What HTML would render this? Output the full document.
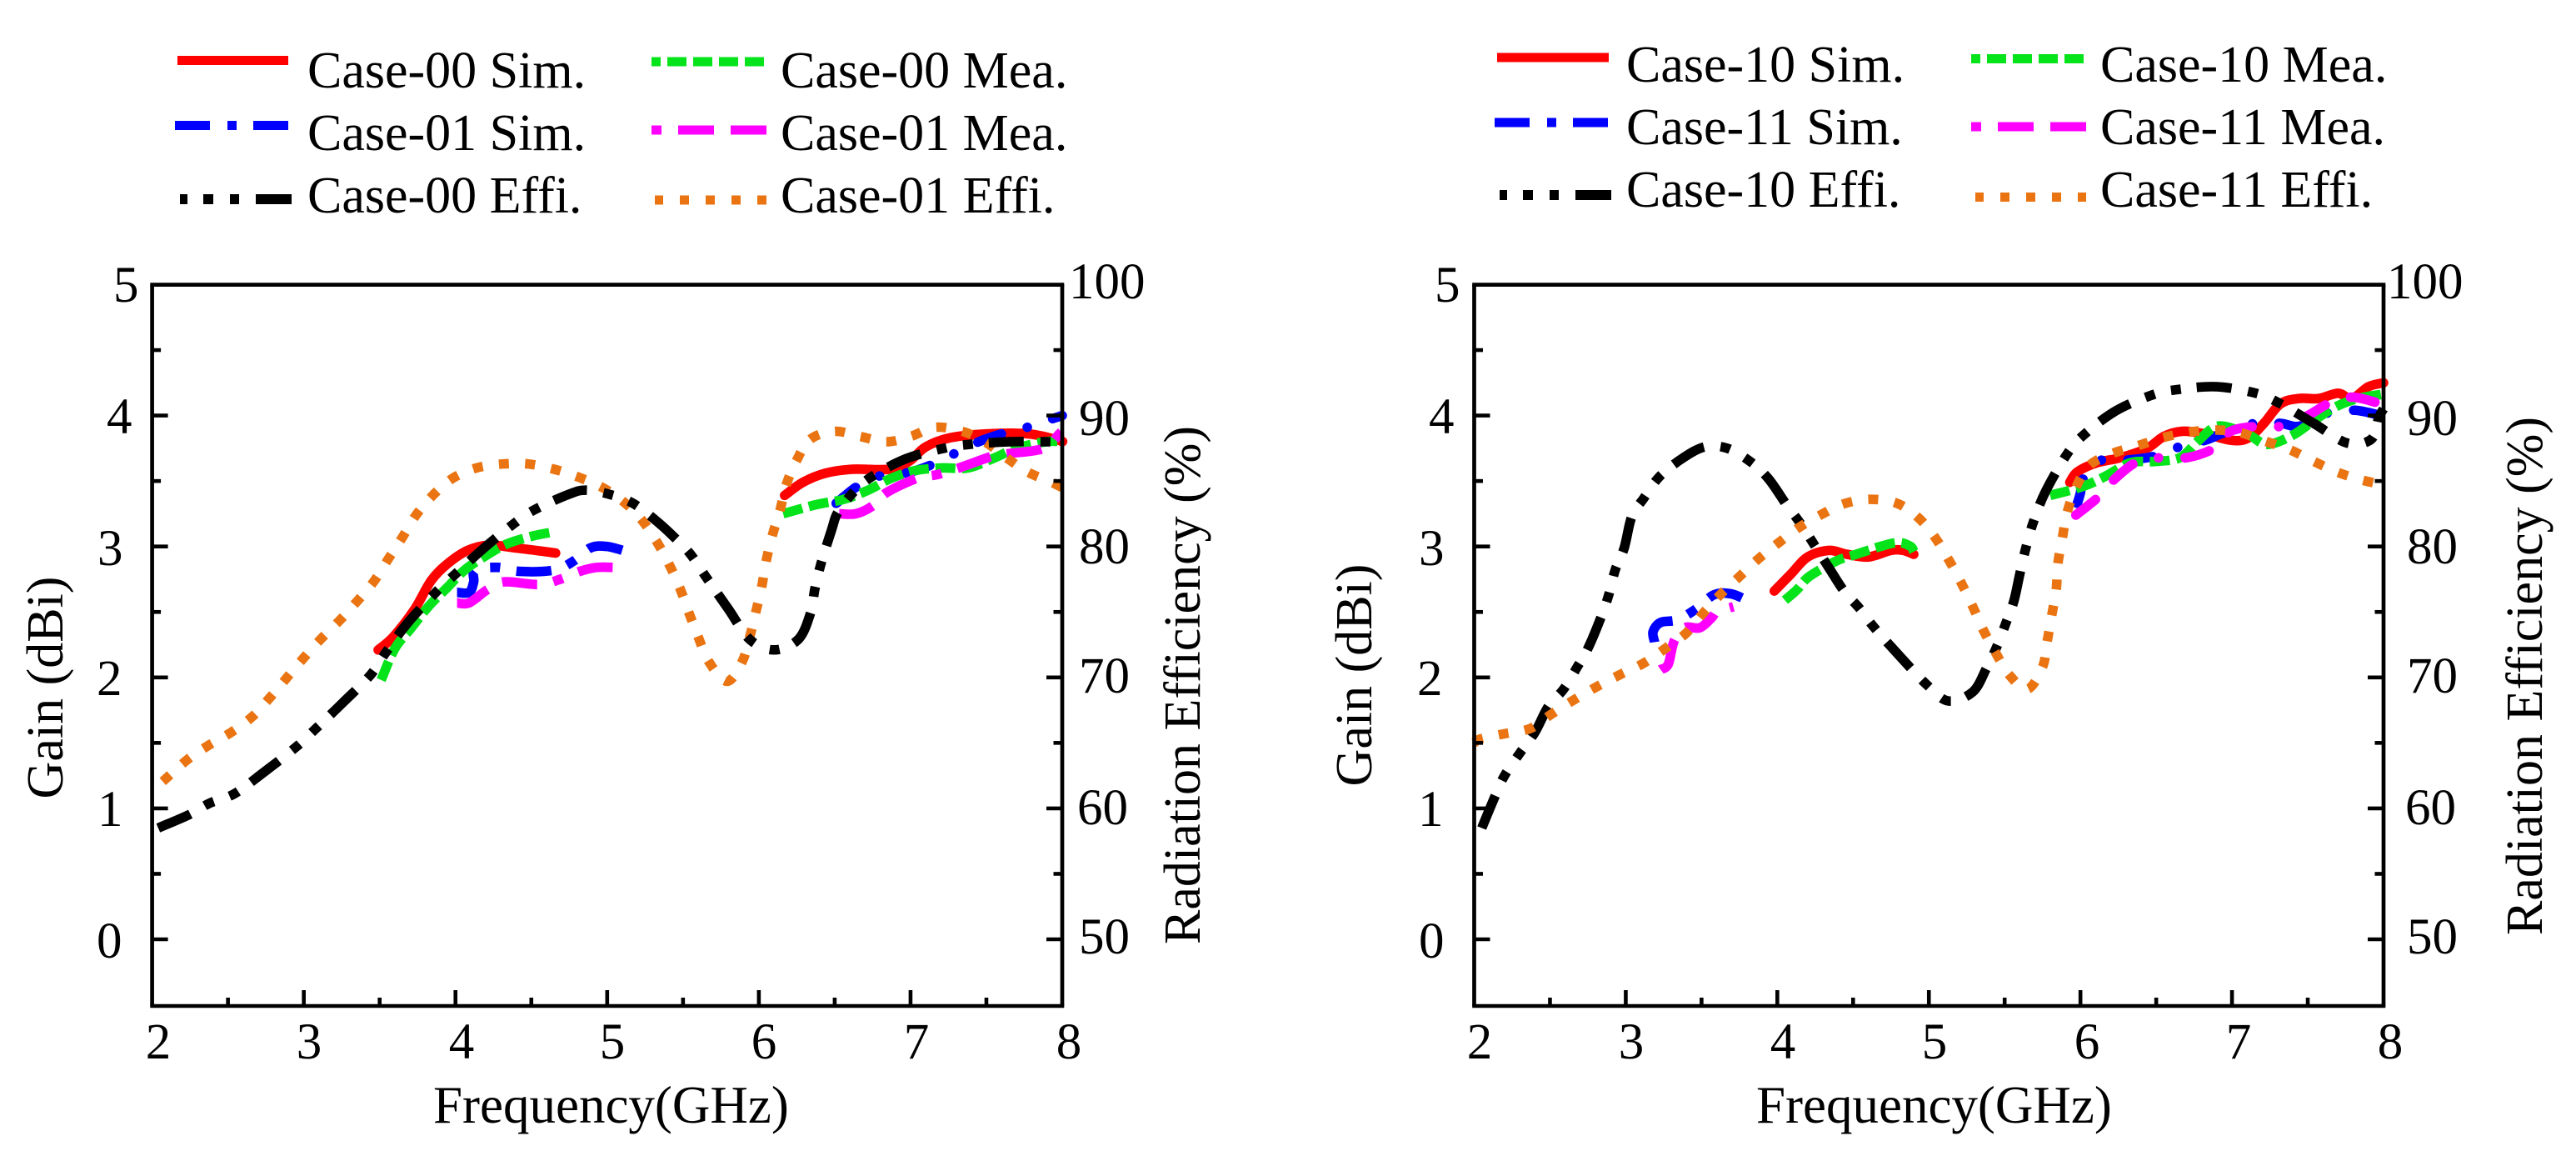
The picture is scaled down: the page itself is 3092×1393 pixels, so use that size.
<!DOCTYPE html>
<html lang="en">
<head>
<meta charset="utf-8">
<title>Gain and Radiation Efficiency vs Frequency</title>
<style>
html,body{margin:0;padding:0;background:#fff;}
svg{display:block;}
text{font-family:"Liberation Serif",serif;fill:#000;}
.tick{font-size:61px;}
.leg{font-size:62px;}
.title{font-size:62px;}
.xtitle{font-size:63px;}
</style>
</head>
<body>
<svg id="figure" xmlns="http://www.w3.org/2000/svg" width="3092" height="1393" viewBox="0 0 3092 1393">
<rect x="0" y="0" width="3092" height="1393" fill="#fff"/>

<!-- Left legend -->
<g>
  <g><line x1="213" x2="346" y1="72.5" y2="72.5" stroke="#ff0000" stroke-width="11"/><text class="leg" x="369" y="105">Case-00 Sim.</text></g>
  <g><line x1="210" x2="346" y1="150.5" y2="150.5" stroke="#0000ff" stroke-width="11" stroke-dasharray="42 21 11 20 42"/><text class="leg" x="369" y="180">Case-01 Sim.</text></g>
  <g><line x1="216" x2="350" y1="239" y2="239" stroke="#000" stroke-width="12" stroke-dasharray="9 19 12 20 11 20 43"/><text class="leg" x="369" y="255">Case-00 Effi.</text></g>
  <g><line x1="782" x2="917" y1="74" y2="74" stroke="#05e31a" stroke-width="11" stroke-dasharray="11 8 23 8 23 8 23 8 23"/><text class="leg" x="937" y="105">Case-00 Mea.</text></g>
  <g><line x1="782" x2="920" y1="156" y2="156" stroke="#ff00ff" stroke-width="11" stroke-dasharray="12 20 43 20 43"/><text class="leg" x="937" y="180">Case-01 Mea.</text></g>
  <g><line x1="786" x2="920" y1="240" y2="240" stroke="#ea7412" stroke-width="11" stroke-dasharray="10 20 11 20 11 20 11 20 11"/><text class="leg" x="937" y="255">Case-01 Effi.</text></g>
</g>

<!-- Right legend -->
<g>
  <g><line x1="1797" x2="1931" y1="69" y2="69" stroke="#ff0000" stroke-width="11"/><text class="leg" x="1952" y="98">Case-10 Sim.</text></g>
  <g><line x1="1794" x2="1931" y1="147" y2="147" stroke="#0000ff" stroke-width="11" stroke-dasharray="42 21 11 20 42"/><text class="leg" x="1952" y="173">Case-11 Sim.</text></g>
  <g><line x1="1800" x2="1936" y1="234" y2="234" stroke="#000" stroke-width="12" stroke-dasharray="9 19 12 20 11 20 43"/><text class="leg" x="1952" y="248">Case-10 Effi.</text></g>
  <g><line x1="2366" x2="2501" y1="70.5" y2="70.5" stroke="#05e31a" stroke-width="11" stroke-dasharray="11 8 23 8 23 8 23 8 23"/><text class="leg" x="2521" y="98">Case-10 Mea.</text></g>
  <g><line x1="2366" x2="2504" y1="152" y2="152" stroke="#ff00ff" stroke-width="11" stroke-dasharray="12 20 43 20 43"/><text class="leg" x="2521" y="173">Case-11 Mea.</text></g>
  <g><line x1="2371" x2="2504" y1="236.5" y2="236.5" stroke="#ea7412" stroke-width="11" stroke-dasharray="10 20 11 20 11 20 11 20 11"/><text class="leg" x="2521" y="248">Case-11 Effi.</text></g>
</g>

<g id="plot-left"></g>
<g id="plot-right"></g>

<!-- Left panel labels -->
<g>
  <text class="tick" x="136" y="362">5</text><text class="tick" x="128" y="520">4</text><text class="tick" x="117" y="678">3</text>
  <text class="tick" x="116" y="834">2</text><text class="tick" x="117" y="991">1</text><text class="tick" x="116" y="1149">0</text>
</g>
<g>
  <text class="tick" x="1283" y="358">100</text><text class="tick" x="1295" y="522">90</text><text class="tick" x="1295" y="676">80</text>
  <text class="tick" x="1295" y="831">70</text><text class="tick" x="1293" y="989">60</text><text class="tick" x="1295" y="1144">50</text>
</g>
<g text-anchor="middle">
  <text class="tick" x="190" y="1270">2</text><text class="tick" x="371" y="1270">3</text><text class="tick" x="554" y="1270">4</text>
  <text class="tick" x="735" y="1270">5</text><text class="tick" x="917" y="1270">6</text><text class="tick" x="1100" y="1270">7</text><text class="tick" x="1283" y="1270">8</text>
</g>
<text class="xtitle" x="520" y="1347">Frequency(GHz)</text>
<text class="title" text-anchor="middle" transform="rotate(-90 75 825)" x="75" y="825">Gain (dBi)</text>
<text class="title" text-anchor="middle" transform="rotate(-90 1440 822)" x="1440" y="822">Radiation Efficiency (%)</text>

<!-- Right panel labels -->
<g>
  <text class="tick" x="1722" y="362">5</text><text class="tick" x="1715" y="520">4</text><text class="tick" x="1703" y="678">3</text>
  <text class="tick" x="1701" y="834">2</text><text class="tick" x="1702" y="991">1</text><text class="tick" x="1703" y="1149">0</text>
</g>
<g>
  <text class="tick" x="2865" y="358">100</text><text class="tick" x="2889" y="522">90</text><text class="tick" x="2889" y="676">80</text>
  <text class="tick" x="2889" y="831">70</text><text class="tick" x="2887" y="989">60</text><text class="tick" x="2889" y="1144">50</text>
</g>
<g text-anchor="middle">
  <text class="tick" x="1776" y="1270">2</text><text class="tick" x="1958" y="1270">3</text><text class="tick" x="2140" y="1270">4</text>
  <text class="tick" x="2322" y="1270">5</text><text class="tick" x="2505" y="1270">6</text><text class="tick" x="2687" y="1270">7</text><text class="tick" x="2869" y="1270">8</text>
</g>
<text class="xtitle" x="2108" y="1347">Frequency(GHz)</text>
<text class="title" text-anchor="middle" transform="rotate(-90 1646 810)" x="1646" y="810">Gain (dBi)</text>
<text class="title" text-anchor="middle" transform="rotate(-90 3051 811)" x="3051" y="811">Radiation Efficiency (%)</text>
</svg>

<script>
// Axis tick values
const freqMajorTicks = [3, 4, 5, 6, 7];
const freqMinorTicks = [2.5, 3.5, 4.5, 5.5, 6.5, 7.5];
const gainMajorTicks = [0, 1, 2, 3, 4];
const gainMinorTicks = [0.5, 1.5, 2.5, 3.5, 4.5];

// Left panel: Case-00 / Case-01
const c00EffiFreq = [2.04,2.24,2.38,2.54,2.73,2.95,3.08,3.26,3.44,3.54,3.68,3.87,3.99,4.18,4.38,4.52,4.75,4.86,5.01,5.17,5.34,5.46,5.55,5.65,5.8,5.94,6.1,6.26,6.34,6.37,6.41,6.48,6.52,6.62,6.74,6.97,7.22,7.39,7.65,7.91,8];
const c00EffiPct = [58.5,59.5,60.4,61.1,62.7,64.7,66.1,68.1,70.2,71.9,74.1,76.5,77.8,79.8,81.7,82.8,84,84.3,84,83.3,81.8,80.5,79.4,77.7,75.2,72.9,72.1,72.9,74.9,76.8,78.7,81.3,82.6,84.1,85.3,86.7,87.5,87.8,88,88,87.9];
const c01EffiFreq = [2.07,2.23,2.37,2.52,2.66,2.78,2.89,3,3.11,3.24,3.35,3.46,3.56,3.65,3.74,3.85,3.98,4.14,4.31,4.48,4.65,4.81,4.97,5.11,5.23,5.33,5.41,5.48,5.54,5.6,5.67,5.79,5.89,5.94,5.98,6.02,6.05,6.09,6.14,6.18,6.25,6.34,6.5,6.67,6.84,7,7.16,7.34,7.49,7.63,7.77,7.93,8];
const c01EffiPct = [62.05,63.7,64.8,65.8,67,68.5,70,71.5,72.9,74.4,75.8,77.3,79.1,80.7,82.4,83.9,85.2,86,86.3,86.3,85.9,85.3,84.5,83.4,82,80.3,78.6,76.8,74.9,73.1,71.2,69.7,71.2,73.1,75,77,79,80.9,82.8,84.7,86.6,88.2,88.8,88.4,88,88.4,89.1,88.8,88,86.8,85.7,84.9,84.5];
const c00SimFreqLow = [3.49,3.59,3.73,3.84,3.95,4.08,4.22,4.39,4.53,4.66];
const c00SimGainLow = [2.21,2.31,2.52,2.74,2.87,2.97,3.01,2.99,2.97,2.95];
const c00SimFreqHigh = [6.17,6.29,6.44,6.62,6.86,6.99,7.1,7.26,7.5,7.78,7.98,8];
const c00SimGainHigh = [3.39,3.49,3.56,3.59,3.59,3.65,3.76,3.83,3.86,3.86,3.81,3.8];
const c00MeaFreqLow = [3.51,3.6,3.71,3.82,3.94,4.06,4.2,4.34,4.51,4.64];
const c00MeaGainLow = [1.98,2.22,2.38,2.54,2.68,2.82,2.93,3.02,3.08,3.11];
const c00MeaFreqHigh = [6.16,6.38,6.56,6.72,6.87,7.03,7.21,7.38,7.54,7.7,7.89,8];
const c00MeaGainHigh = [3.25,3.32,3.36,3.43,3.52,3.58,3.6,3.6,3.67,3.75,3.8,3.8];
const c01SimFreqLow = [4.01,4.09,4.12,4.13,4.28,4.42,4.65,4.78,4.89,5,5.13];
const c01SimGainLow = [2.65,2.65,2.73,2.82,2.84,2.81,2.82,2.89,2.99,3,2.96];
const c01SimFreqHigh = [6.51,6.65,6.8,6.97,7.13,7.29,7.45,7.6,7.77,7.92,8];
const c01SimGainHigh = [3.33,3.46,3.54,3.56,3.62,3.71,3.8,3.86,3.91,3.97,4];
const c01MeaFreqLow = [4.01,4.09,4.21,4.32,4.55,4.69,4.82,4.93,5.05];
const c01MeaGainLow = [2.57,2.57,2.67,2.73,2.71,2.75,2.81,2.84,2.84];
const c01MeaFreqHigh = [6.53,6.64,6.75,6.84,7.04,7.18,7.32,7.54,7.65,7.88,7.98,8];
const c01MeaGainHigh = [3.25,3.25,3.31,3.41,3.52,3.55,3.6,3.69,3.71,3.75,3.86,3.88];

// Right panel: Case-10 / Case-11
const c10EffiFreq = [2.05,2.14,2.2,2.3,2.4,2.49,2.59,2.68,2.75,2.84,2.89,2.93,2.99,3.04,3.12,3.22,3.37,3.52,3.67,3.82,3.94,4.06,4.15,4.24,4.35,4.44,4.54,4.64,4.81,4.99,5.13,5.29,5.38,5.45,5.51,5.56,5.6,5.64,5.69,5.77,5.92,6.04,6.24,6.48,6.65,6.9,7.16,7.32,7.54,7.76,7.92,7.97,8];
const c10EffiPct = [58.5,61,62.5,64.2,65.8,67.8,69.1,70.8,72.2,74.7,76.4,78.2,79.9,82.3,83.7,85.3,86.7,87.6,87.5,86.5,85.2,83.2,81.8,80.2,78.2,76.6,75.3,73.8,71.6,69.4,68.2,68.9,70.7,72.4,74.2,75.8,77.9,79.9,81.9,84.2,87.2,88.7,90.4,91.6,92,92.2,91.7,90.9,89.4,87.9,88.2,89.9,90.5];
const c11EffiFreq = [2,2.04,2.2,2.37,2.51,2.66,2.81,2.96,3.12,3.26,3.4,3.51,3.63,3.75,3.88,4.01,4.15,4.3,4.45,4.62,4.79,4.93,5.04,5.13,5.21,5.29,5.36,5.44,5.53,5.65,5.75,5.78,5.81,5.84,5.85,5.88,5.91,5.97,6.06,6.21,6.38,6.54,6.7,6.88,7.05,7.23,7.38,7.54,7.69,7.85,8];
const c11EffiPct = [65,65.3,65.7,66.1,67.2,68.3,69.3,70.2,71.1,72.2,73.4,74.9,76.4,77.7,79.1,80.3,81.5,82.5,83.3,83.6,83.3,82.2,80.7,79,77.3,75.4,73.6,71.9,70.2,69.1,70.8,72.7,74.7,76.7,78.6,80.6,82.5,84.5,86.2,87.1,87.7,88.3,88.7,88.9,88.7,88,87.4,86.5,85.7,85.1,84.7];
const c10SimFreqLow = [3.98,4.09,4.2,4.34,4.46,4.6,4.75,4.83,4.9];
const c10SimGainLow = [2.66,2.79,2.92,2.97,2.94,2.92,2.97,2.97,2.94];
const c10SimFreqHigh = [5.93,5.98,6.11,6.27,6.44,6.55,6.67,6.82,7,7.11,7.21,7.32,7.44,7.57,7.7,7.79,7.9,8];
const c10SimGainHigh = [3.49,3.57,3.64,3.68,3.75,3.84,3.88,3.86,3.81,3.83,3.94,4.09,4.13,4.13,4.17,4.13,4.22,4.25];
const c10MeaFreqLow = [4.05,4.13,4.21,4.39,4.52,4.68,4.8,4.88,4.9];
const c10MeaGainLow = [2.59,2.67,2.77,2.89,2.94,3,3.03,3,2.96];
const c10MeaFreqHigh = [5.8,6.02,6.17,6.33,6.5,6.66,6.78,6.91,7.1,7.23,7.4,7.55,7.69,7.83,7.98,8];
const c10MeaGainHigh = [3.39,3.46,3.54,3.64,3.65,3.68,3.81,3.92,3.86,3.78,3.85,3.97,4.07,4.13,4.16,4.16];
const c11SimFreqLow = [3.19,3.18,3.23,3.34,3.46,3.58,3.69,3.8];
const c11SimGainLow = [2.27,2.35,2.42,2.44,2.52,2.63,2.64,2.59];
const c11SimFreqHigh = [5.98,6,6.02,6.14,6.3,6.49,6.65,6.82,6.95,7.15,7.32,7.45,7.63,7.81,7.98,8];
const c11SimGainHigh = [3.33,3.41,3.52,3.66,3.66,3.69,3.76,3.81,3.87,3.94,3.94,3.92,4.02,4.04,4,3.99];
const c11MeaFreqLow = [3.23,3.28,3.32,3.39,3.49,3.57,3.6,3.71];
const c11MeaGainLow = [2.06,2.1,2.28,2.38,2.38,2.46,2.5,2.54];
const c11MeaFreqHigh = [5.97,6.12,6.23,6.38,6.55,6.71,6.88,6.99,7.18,7.34,7.5,7.65,7.8,7.98,8];
const c11MeaGainHigh = [3.24,3.38,3.52,3.65,3.68,3.68,3.75,3.88,3.92,3.92,4,4.1,4.14,4.09,4.08];

// Axis scales
const SVGNS = 'http://www.w3.org/2000/svg';
const plotTop = 341.6, plotBottom = 1207, gainZeroY = 1127, pxPerGain = 157.1;
const panelLeft = { el: document.getElementById('plot-left'), x2: 182.6, x8: 1275 };
const panelRight = { el: document.getElementById('plot-right'), x2: 1769.5, x8: 2861 };
function xScale(panel, f) { return panel.x2 + (f - 2) * (panel.x8 - panel.x2) / 6; }
function gainScale(g) { return gainZeroY - g * pxPerGain; }
function effScale(p) { return gainZeroY - (p - 50) / 10 * pxPerGain; }

// Line styles
const styles = {
  sim:   { color: '#ff0000', dash: null, cap: 'round' },
  mea:   { color: '#05e31a', dash: '24 8', cap: 'butt' },
  simD:  { color: '#0000ff', dash: '42 20 12 20', cap: 'butt' },
  simR:  { color: '#0000ff', dash: '30 32 0.1 32', cap: 'round' },
  meaD:  { color: '#ff00ff', dash: '42 20 42 20 12 20', cap: 'butt' },
  meaR:  { color: '#ff00ff', dash: '30 32 30 32 0.1 32', cap: 'round' },
  eff0:  { color: '#000000', dash: '42 20 12 20 12 19', cap: 'butt' },
  eff1:  { color: '#ea7412', dash: '12 19.5', cap: 'butt' }
};

function smoothPath(pts) {
  let d = 'M' + pts[0][0].toFixed(1) + ' ' + pts[0][1].toFixed(1);
  for (let i = 0; i < pts.length - 1; i++) {
    const p0 = pts[Math.max(i - 1, 0)], p1 = pts[i], p2 = pts[i + 1], p3 = pts[Math.min(i + 2, pts.length - 1)];
    const c1x = p1[0] + (p2[0] - p0[0]) / 6, c1y = p1[1] + (p2[1] - p0[1]) / 6;
    const c2x = p2[0] - (p3[0] - p1[0]) / 6, c2y = p2[1] - (p3[1] - p1[1]) / 6;
    d += 'C' + c1x.toFixed(1) + ' ' + c1y.toFixed(1) + ' ' + c2x.toFixed(1) + ' ' + c2y.toFixed(1) + ' ' + p2[0].toFixed(1) + ' ' + p2[1].toFixed(1);
  }
  return d;
}

function drawSeries(panel, freq, values, yFn, styleKey, label) {
  const st = styles[styleKey];
  const pts = freq.map(function (f, i) { return [xScale(panel, f), yFn(values[i])]; });
  const path = document.createElementNS(SVGNS, 'path');
  
  
  path.setAttribute('d', smoothPath(pts));
  path.setAttribute('fill', 'none');
  path.setAttribute('stroke', st.color);
  path.setAttribute('stroke-width', '11.5');
  path.setAttribute('stroke-linecap', st.cap);
  path.setAttribute('stroke-linejoin', 'round');
  if (st.dash) path.setAttribute('stroke-dasharray', st.dash);
  panel.el.appendChild(path);
}

function drawLine(panel, x1, y1, x2, y2, w, label) {
  const ln = document.createElementNS(SVGNS, 'line');
  
  
  ln.setAttribute('x1', x1);
  ln.setAttribute('y1', y1);
  ln.setAttribute('x2', x2);
  ln.setAttribute('y2', y2);
  ln.setAttribute('stroke', '#000');
  ln.setAttribute('stroke-width', w);
  panel.el.appendChild(ln);
}

function drawAxes(panel) {
  const xl = panel.x2, xr = panel.x8;
  freqMajorTicks.forEach(function (f) { drawLine(panel, xScale(panel, f), plotBottom, xScale(panel, f), plotBottom - 19, 4.6, 'x-major-tick'); });
  freqMinorTicks.forEach(function (f) { drawLine(panel, xScale(panel, f), plotBottom, xScale(panel, f), plotBottom - 10, 4.6, 'x-minor-tick'); });
  gainMajorTicks.forEach(function (g) {
    drawLine(panel, xl, gainScale(g), xl + 19, gainScale(g), 4.6, 'y-left-major-tick');
    drawLine(panel, xr, gainScale(g), xr - 19, gainScale(g), 4.6, 'y-right-major-tick');
  });
  gainMinorTicks.forEach(function (g) {
    drawLine(panel, xl, gainScale(g), xl + 10.5, gainScale(g), 4.6, 'y-left-minor-tick');
    drawLine(panel, xr, gainScale(g), xr - 10.5, gainScale(g), 4.6, 'y-right-minor-tick');
  });
  drawLine(panel, xl - 2.3, plotTop, xr + 2.3, plotTop, 4.7, 'plot-top-border');
  drawLine(panel, xl - 2.3, plotBottom, xr + 2.3, plotBottom, 4.6, 'plot-bottom-axis');
  drawLine(panel, xl, plotTop, xl, plotBottom, 4.7, 'plot-left-axis');
  drawLine(panel, xr, plotTop, xr, plotBottom, 4.7, 'plot-right-axis');
}

// Left panel series
drawSeries(panelLeft, c00SimFreqLow, c00SimGainLow, gainScale, 'sim', 'case-00-sim-low-band');
drawSeries(panelLeft, c00SimFreqHigh, c00SimGainHigh, gainScale, 'sim', 'case-00-sim-high-band');
drawSeries(panelLeft, c01SimFreqLow, c01SimGainLow, gainScale, 'simD', 'case-01-sim-low-band');
drawSeries(panelLeft, c01SimFreqHigh, c01SimGainHigh, gainScale, 'simR', 'case-01-sim-high-band');
drawSeries(panelLeft, c00MeaFreqLow, c00MeaGainLow, gainScale, 'mea', 'case-00-mea-low-band');
drawSeries(panelLeft, c00MeaFreqHigh, c00MeaGainHigh, gainScale, 'mea', 'case-00-mea-high-band');
drawSeries(panelLeft, c01MeaFreqLow, c01MeaGainLow, gainScale, 'meaD', 'case-01-mea-low-band');
drawSeries(panelLeft, c01MeaFreqHigh, c01MeaGainHigh, gainScale, 'meaD', 'case-01-mea-high-band');
drawSeries(panelLeft, c01EffiFreq, c01EffiPct, effScale, 'eff1', 'case-01-effi');
drawSeries(panelLeft, c00EffiFreq, c00EffiPct, effScale, 'eff0', 'case-00-effi');
drawAxes(panelLeft);

// Right panel series
drawSeries(panelRight, c10SimFreqLow, c10SimGainLow, gainScale, 'sim', 'case-10-sim-low-band');
drawSeries(panelRight, c10SimFreqHigh, c10SimGainHigh, gainScale, 'sim', 'case-10-sim-high-band');
drawSeries(panelRight, c11SimFreqLow, c11SimGainLow, gainScale, 'simD', 'case-11-sim-low-band');
drawSeries(panelRight, c11SimFreqHigh, c11SimGainHigh, gainScale, 'simR', 'case-11-sim-high-band');
drawSeries(panelRight, c10MeaFreqLow, c10MeaGainLow, gainScale, 'mea', 'case-10-mea-low-band');
drawSeries(panelRight, c10MeaFreqHigh, c10MeaGainHigh, gainScale, 'mea', 'case-10-mea-high-band');
drawSeries(panelRight, c11MeaFreqLow, c11MeaGainLow, gainScale, 'meaD', 'case-11-mea-low-band');
drawSeries(panelRight, c11MeaFreqHigh, c11MeaGainHigh, gainScale, 'meaR', 'case-11-mea-high-band');
drawSeries(panelRight, c10EffiFreq, c10EffiPct, effScale, 'eff0', 'case-10-effi');
drawSeries(panelRight, c11EffiFreq, c11EffiPct, effScale, 'eff1', 'case-11-effi');
drawAxes(panelRight);
</script>
</body>
</html>
